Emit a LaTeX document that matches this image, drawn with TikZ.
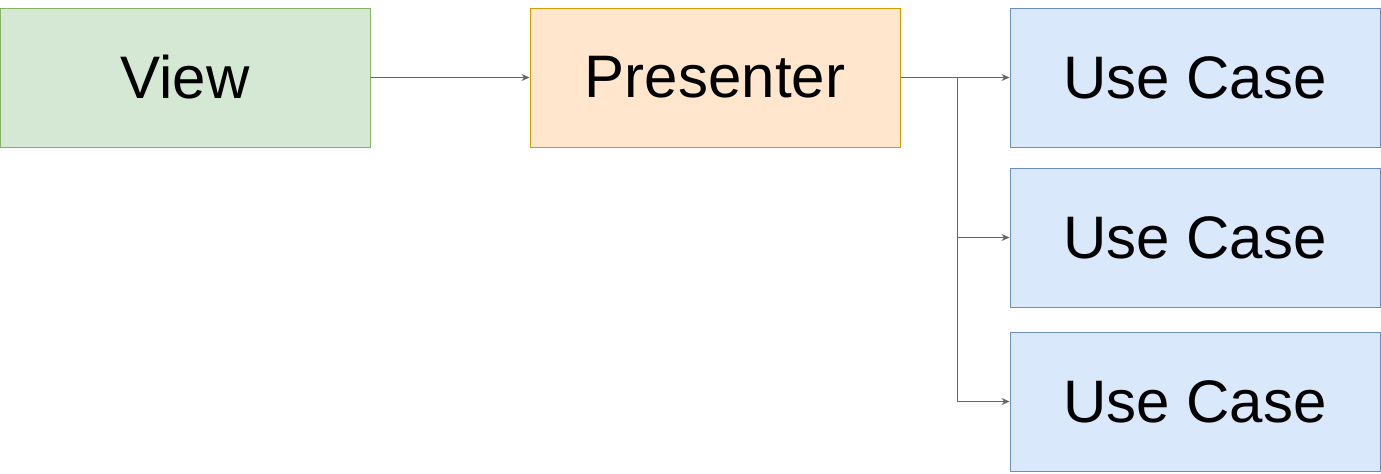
\documentclass[tikz,border=0pt]{standalone}
\usepackage{fontspec}
\setmainfont{Liberation Sans}
\usepackage{xcolor}
\usetikzlibrary{arrows.meta}

\definecolor{viewfill}{HTML}{D5E8D4}
\definecolor{viewline}{HTML}{82B366}
\definecolor{presfill}{HTML}{FFE6CC}
\definecolor{presline}{HTML}{D79B00}
\definecolor{ucfill}{HTML}{DAE8FC}
\definecolor{ucline}{HTML}{6C8EBF}
\definecolor{wire}{HTML}{666666}

\begin{document}
\begin{tikzpicture}[x=0.5pt, y=-0.5pt,
    box/.style={rectangle, minimum width=185pt, minimum height=69.5pt,
      inner sep=0pt, line width=0.5pt, font=\fontsize{30}{36}\selectfont},
    viewbox/.style={box, fill=viewfill, draw=viewline},
    presbox/.style={box, fill=presfill, draw=presline},
    ucbox/.style={box, fill=ucfill, draw=ucline},
    link/.style={draw=wire, line width=0.5pt, -{Stealth[length=4pt, width=3.5pt]}}]
  % page frame
  \useasboundingbox (0,0) rectangle (1381,473);
  % boxes
  \node[viewbox] (view) at (185,77.5) {View};
  \node[presbox] (pres) at (715,77.5) {Presenter};
  \node[ucbox] (uc1) at (1195,77.5) {Use Case};
  \node[ucbox] (uc2) at (1195,237.5) {Use Case};
  \node[ucbox] (uc3) at (1195,401.5) {Use Case};
  % split point of the presenter wires
  \coordinate (split) at (957,77.5);
  % wires
  \draw[link] (view) -- (pres);
  \draw[link] (pres) -- (uc1);
  \draw[link] (pres.east) -- (split) |- (uc2.west);
  \draw[link] (pres.east) -- (split) |- (uc3.west);
\end{tikzpicture}
\end{document}
